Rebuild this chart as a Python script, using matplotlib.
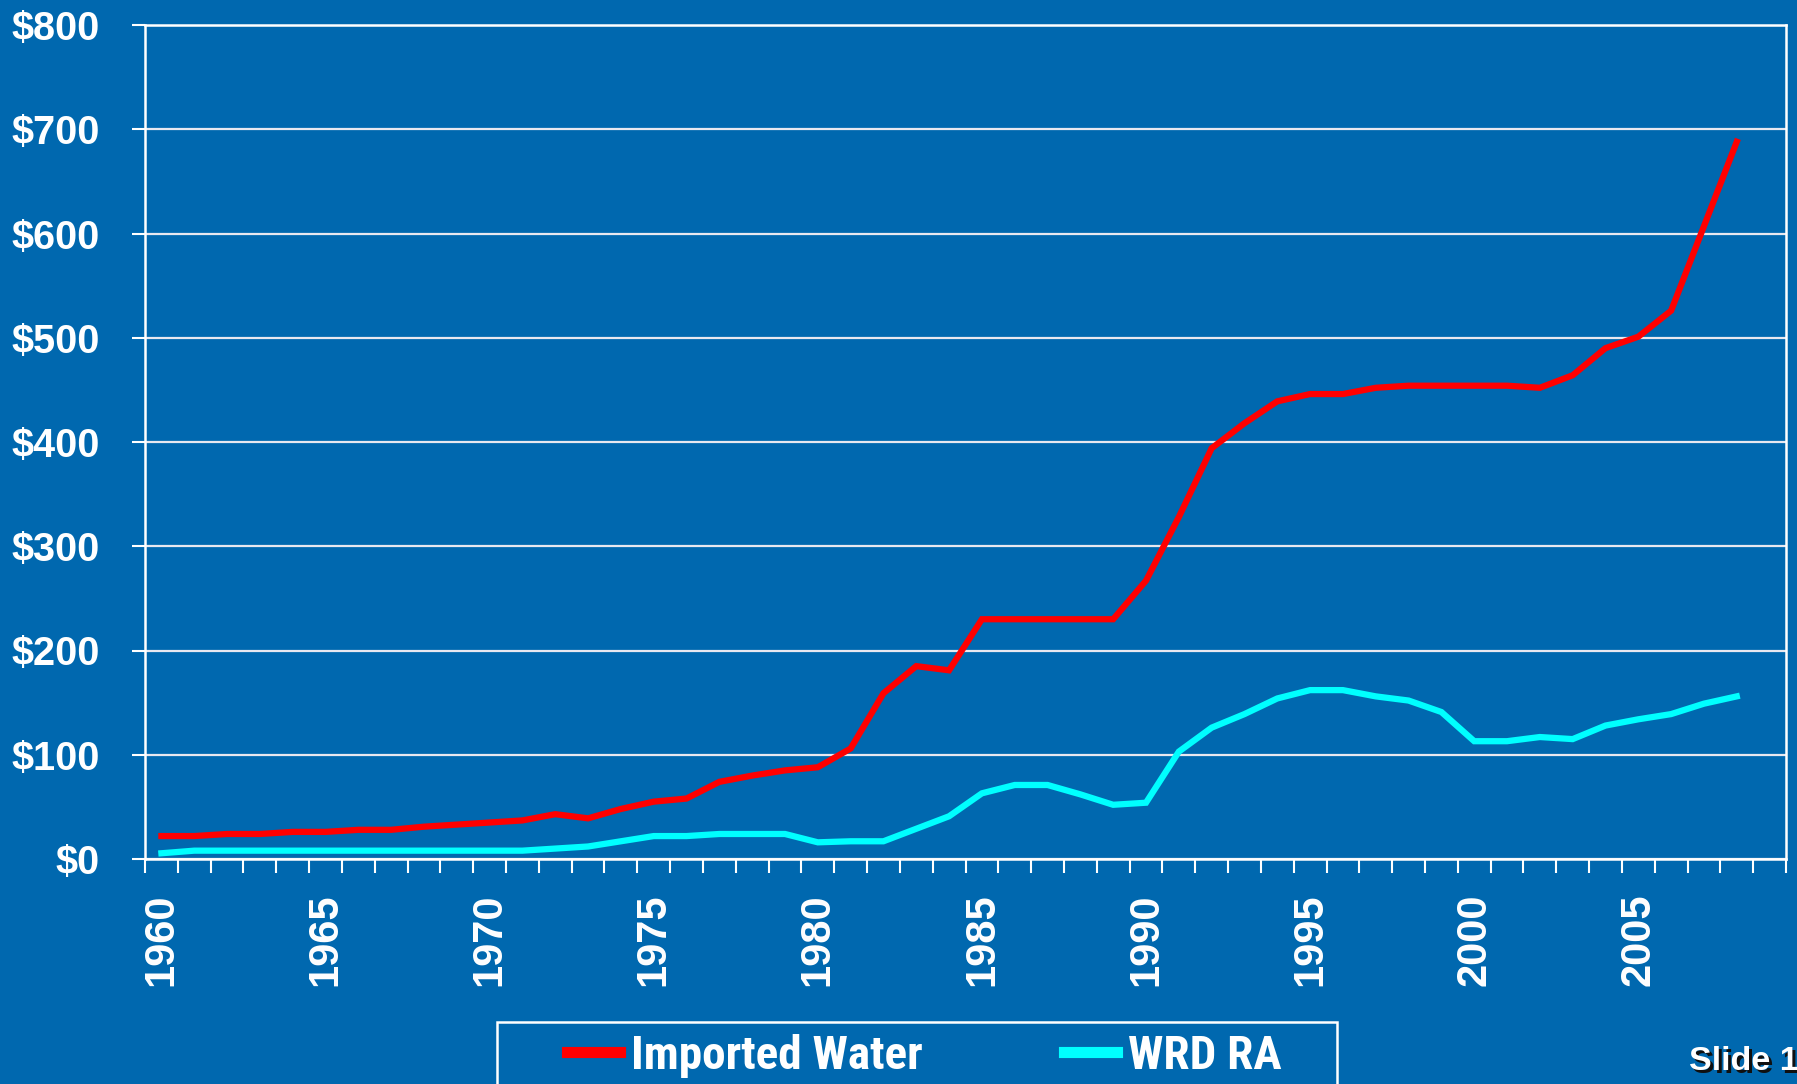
import os
import matplotlib
matplotlib.use('Agg')
import matplotlib.pyplot as plt
from matplotlib import font_manager
from matplotlib.font_manager import FontProperties
from matplotlib.lines import Line2D
from matplotlib.patches import Rectangle
from matplotlib.ticker import FixedLocator, FuncFormatter

# 数据
years = list(range(1960, 2009))
imported_water = [22, 22, 24, 24, 26, 26, 28, 28, 31, 33,
                  35, 37, 43, 39, 48, 55, 58, 74, 80, 85,
                  88, 106, 159, 185, 181, 230, 230, 230, 230, 230,
                  267, 328, 394, 418, 439, 446, 446, 452, 454, 454,
                  454, 454, 452, 464, 490, 501, 526, 607, 688]
wrd_ra = [5.5, 8, 8, 8, 8, 8, 8, 8, 8, 8,
          8, 8, 10, 12, 17, 22, 22, 24, 24, 24,
          16, 17, 17, 29, 41, 63, 71, 71, 62, 52,
          54, 103, 126, 139, 154, 162, 162, 156, 152, 141,
          113, 113, 117, 115, 128, 134, 139, 149, 156]
year_labels = [1960, 1965, 1970, 1975, 1980, 1985, 1990, 1995, 2000, 2005]
y_ticks = [0, 100, 200, 300, 400, 500, 600, 700, 800]
series_names = ['Imported Water', 'WRD RA']
series_colors = ['#FF0000', '#00FFFF']

BG = '#0068AF'
W, H = 1797, 1084

# 图例用窄体粗字 (如果有的话)
legend_font = FontProperties(family='Liberation Sans', weight='bold', size=28)
files = {os.path.basename(f.fname): f.fname for f in font_manager.fontManager.ttflist}
for fn, sz in [('LiberationSansNarrow-Bold.ttf', 33), ('RobotoCondensed-Bold.ttf', 34)]:
    if fn in files:
        legend_font = FontProperties(fname=files[fn], size=sz)
        break

plt.rcParams['font.family'] = ['Liberation Sans', 'DejaVu Sans']

fig = plt.figure(figsize=(W / 100, H / 100), dpi=100, facecolor=BG)
ax = fig.add_axes([145 / W, 1 - 859 / H, (1786 - 145) / W, (859 - 25) / H])
ax.set_facecolor(BG)

for vals, c in zip([imported_water, wrd_ra], series_colors):
    ax.plot(years, vals, color=c, linewidth=4.5, solid_joinstyle='miter')

ax.set_xlim(1959.5, 2009.5)
ax.set_ylim(0, 800)

# y 轴
ax.yaxis.set_major_locator(FixedLocator(y_ticks))
ax.yaxis.set_major_formatter(FuncFormatter(lambda v, p: f'${int(v)}'))
ax.tick_params(axis='y', direction='out', length=9.5, width=1.5, color='white',
               labelcolor='white', labelsize=28.5, pad=23)
ax.grid(axis='y', color='#E8E8F0', linewidth=1.6)
ax.set_axisbelow(True)

# x 轴: 刻度线在类别边界, 标签在类别中心
ax.xaxis.set_major_locator(FixedLocator(year_labels))
ax.xaxis.set_minor_locator(FixedLocator([y - 0.5 for y in range(1960, 2011)]))
ax.tick_params(axis='x', which='major', length=0, labelcolor='white',
               labelsize=30, pad=25, labelrotation=90)
ax.tick_params(axis='x', which='minor', direction='out', length=10, width=1.5, color='white')
for lab in ax.get_xticklabels() + ax.get_yticklabels():
    lab.set_fontweight('bold')

for s in ['left', 'bottom', 'right', 'top']:
    ax.spines[s].set_color('white')
    ax.spines[s].set_linewidth(1.8)

# 图例
handles = [Line2D([], [], color=c, linewidth=8) for c in series_colors]
leg = fig.legend(handles, series_names, loc='center left',
                 bbox_to_anchor=(567 / W, 1 - 1056 / H), ncol=2, frameon=False,
                 handlelength=1.12, handletextpad=0.23, columnspacing=3.0,
                 prop=legend_font, borderpad=0, borderaxespad=0)
for t in leg.get_texts():
    t.set_color('white')
fig.patches.append(Rectangle((497 / W, 1 - 1100 / H), (1337 - 497) / W, (1100 - 1022) / H,
                             transform=fig.transFigure, facecolor='none',
                             edgecolor='white', linewidth=1.8))

# Slide 1 (带阴影)
fig.text(1689 / W + 3 / W, 1 - 1070 / H - 3 / H, 'Slide 1', color='#101010', fontsize=24.5,
         fontweight='bold', va='baseline', ha='left')
fig.text(1689 / W, 1 - 1070 / H, 'Slide 1', color='white', fontsize=24.5,
         fontweight='bold', va='baseline', ha='left')

fig.savefig('out.png', dpi=100, facecolor=BG)
